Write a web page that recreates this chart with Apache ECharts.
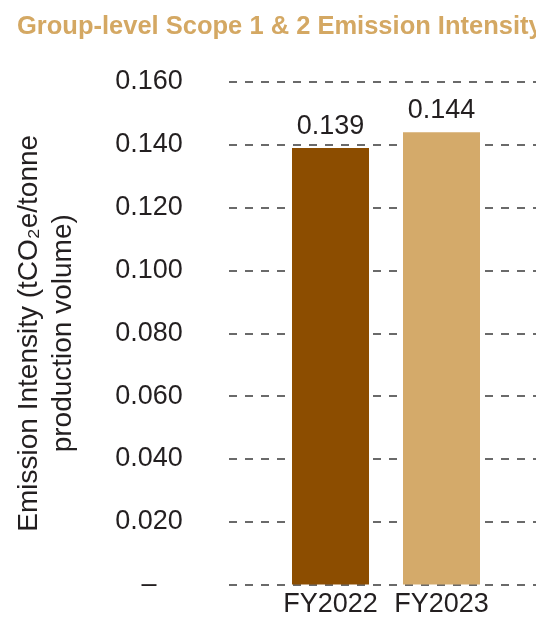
<!DOCTYPE html>
<html>
<head>
<meta charset="utf-8">
<script src="https://cdn.jsdelivr.net/npm/echarts@6/dist/echarts.min.js"></script>
<style>
html,body{margin:0;padding:0;background:#fff;}
#chart{width:536px;height:619px;}
</style>
</head>
<body>
<div id="chart"></div>
<script>
const titleText = 'Group-level Scope 1 & 2 Emission Intensity';
const categories = ['FY2022', 'FY2023'];
const values = [0.139, 0.144];
const barColors = ['#8C4D00', '#D4AA6A'];
const yMin = 0;
const yMax = 0.16;
const yInterval = 0.02;
const yAxisName = 'Emission Intensity (tCO\u2082e/tonne\nproduction volume)';

const FONT = '"Liberation Sans", Arial, Helvetica, "DejaVu Sans", sans-serif';
const TEXT = '#231F20';

const chart = echarts.init(document.getElementById('chart'), null, {renderer: 'canvas'});
chart.setOption({
  animation: false,
  backgroundColor: '#fff',
  title: {
    text: titleText,
    left: 17,
    top: 14,
    padding: 0,
    textStyle: {color: '#D4A863', fontSize: 25.5, fontWeight: 'bold', fontFamily: FONT}
  },
  grid: [
    {left: 275, right: 39, top: 82, bottom: 34.5, containLabel: false},
    {left: 229, right: 0, top: 82, bottom: 34.5, containLabel: false}
  ],
  xAxis: [
    {
      type: 'category', gridIndex: 0, data: categories,
      axisLine: {show: false}, axisTick: {show: false},
      axisLabel: {color: TEXT, fontSize: 27, fontFamily: FONT, margin: 7, interval: 0, hideOverlap: false}
    },
    {type: 'category', gridIndex: 1, data: categories, show: false}
  ],
  yAxis: [
    {type: 'value', gridIndex: 0, min: yMin, max: yMax, interval: yInterval, show: false, splitLine: {show: false}},
    {
      type: 'value', gridIndex: 1, min: yMin, max: yMax, interval: yInterval,
      axisLine: {show: false}, axisTick: {show: false},
      axisLabel: {
        color: TEXT, fontSize: 27, fontFamily: FONT, align: 'center', margin: 80,
        formatter: v => (Math.abs(v) < 1e-9 ? '\u2013' : v.toFixed(3))
      },
      splitLine: {show: true, lineStyle: {color: '#3a3a3a', width: 1.5, type: [8, 8]}},
      name: yAxisName,
      nameLocation: 'middle',
      nameRotate: 90,
      nameGap: 149,
      nameTextStyle: {color: TEXT, fontSize: 28, fontFamily: FONT, lineHeight: 34, align: 'center'}
    }
  ],
  series: [{
    type: 'bar',
    xAxisIndex: 0, yAxisIndex: 0,
    barWidth: 77,
    data: values.map((v, i) => ({value: v, itemStyle: {color: barColors[i]}})),
    label: {
      show: true, position: 'top', distance: 8,
      color: TEXT, fontSize: 27, fontFamily: FONT,
      formatter: p => p.value.toFixed(3)
    },
    z: 3
  }]
});
</script>
</body>
</html>
